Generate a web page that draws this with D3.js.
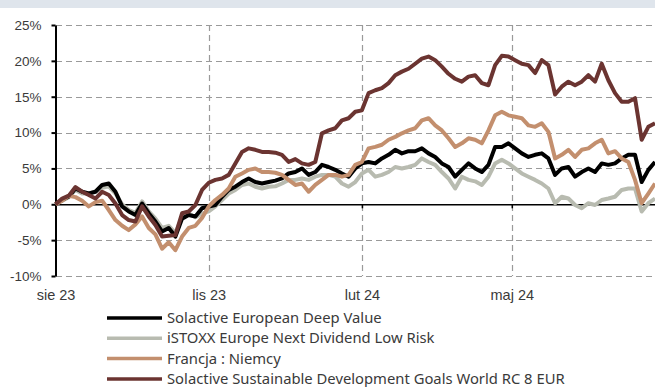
<!DOCTYPE html>
<html>
<head>
<meta charset="utf-8">
<script src="https://cdn.jsdelivr.net/npm/d3@7"></script>
<style>
  body { margin: 0; background: #fff; }
  svg { display: block; font-family: "Noto Sans", sans-serif; }
</style>
</head>
<body>
<svg id="chart" width="655" height="387"></svg>
<script>
// sampling dates: every 4th day from 1 Aug 2023
const start = new Date(2023, 7, 1);
const dates = d3.timeDay.range(start, new Date(2024, 6, 27), 4);

const deepValue = [0, 0.6, 1.1, 2.2, 1.75, 1.5, 1.75, 2.7, 2.9, 1.75,
  -0.3, -1.0, -1.5, 0.1, -1.25, -2.4, -3.8, -3.3, -4.5, -2.0,
  -1.5, -1.7, -0.55, -0.3, -0.1, 1.05, 2.0, 2.45, 3.1, 3.6,
  3.1, 2.9, 3.1, 3.3, 3.6, 4.3, 4.5, 5.0, 4.1, 4.5,
  5.5, 5.2, 4.8, 4.3, 3.85, 5.0, 5.7, 5.9, 5.7, 6.4,
  6.9, 7.6, 7.1, 7.4, 7.4, 7.8, 7.1, 6.6, 5.7, 5.2,
  3.85, 4.8, 5.7, 5.0, 4.5, 5.5, 8.0, 8.0, 8.5, 7.8,
  7.1, 6.6, 6.9, 7.1, 6.4, 4.1, 5.0, 5.2, 3.85, 4.5,
  5.0, 4.5, 5.7, 5.5, 5.7, 6.4, 6.9, 6.9, 3.1, 4.8, 5.9];

const lowRisk = [0, 0.5, 1.0, 2.0, 1.5, 1.5, 1.8, 2.3, 2.5, 1.5,
  0.0, -0.8, -1.2, 0.4, -1.0, -2.0, -3.3, -3.0, -4.0, -1.8,
  -1.3, -1.8, -1.3, -1.0, -0.3, 0.6, 1.5, 2.0, 2.7, 2.9,
  2.45, 2.2, 2.45, 2.5, 2.9, 3.4, 3.4, 3.6, 3.4, 3.85,
  4.1, 4.1, 3.85, 2.9, 2.45, 3.1, 4.3, 4.8, 3.85, 4.1,
  4.5, 5.2, 5.0, 5.2, 5.5, 6.4, 5.9, 5.5, 4.5, 3.6,
  2.2, 3.85, 3.4, 3.2, 2.7, 3.85, 5.7, 6.2, 5.7, 5.0,
  4.3, 3.85, 3.4, 2.9, 2.2, 0.15, 1.05, 0.8, -0.1, -0.55,
  0.15, -0.1, 0.6, 0.8, 1.05, 2.0, 2.2, 2.2, -1.0, 0.15, 0.8];

const franceGermany = [0, 0.5, 1.2, 1.0, 0.5, -0.3, 0.3, 0.5, -0.8, -2.2,
  -3.0, -3.6, -2.8, -1.7, -3.3, -4.2, -6.2, -5.3, -6.4, -4.5,
  -3.3, -3.0, -1.9, -0.3, 0.6, 1.3, 2.2, 3.85, 4.3, 4.8,
  5.0, 4.5, 4.5, 4.4, 4.1, 3.4, 2.7, 2.9, 1.75, 2.7,
  3.4, 4.1, 4.1, 3.85, 4.1, 5.5, 5.9, 7.8, 8.0, 8.3,
  9.0, 9.4, 9.9, 10.3, 10.6, 11.7, 12.0, 11.0, 10.3, 9.2,
  8.0, 8.5, 9.2, 9.0, 8.5, 10.3, 12.4, 12.9, 12.4, 12.2,
  12.0, 11.0, 10.8, 11.3, 10.1, 6.4, 6.9, 7.6, 6.6, 7.6,
  7.8, 8.5, 9.0, 7.1, 7.4, 6.4, 5.9, 3.4, 0.15, 1.5, 2.9];

const sdgWorld = [0, 0.8, 1.2, 2.4, 1.75, 1.3, 0.8, 1.75, 1.3, 0.1,
  -1.5, -2.2, -2.4, -0.3, -1.7, -2.9, -4.5, -4.4, -4.3, -1.25,
  -1.0, -0.1, 2.0, 3.0, 3.4, 3.6, 4.1, 5.7, 7.3, 7.8,
  7.6, 7.3, 7.3, 7.2, 6.9, 5.9, 6.3, 5.7, 5.5, 5.9,
  9.9, 10.3, 10.6, 11.7, 12.0, 12.9, 13.1, 15.5, 15.9, 16.2,
  16.9, 18.0, 18.5, 18.9, 19.6, 20.3, 20.6, 20.1, 19.2, 18.2,
  17.5, 17.1, 17.8, 18.0, 16.9, 16.6, 19.4, 20.7, 20.6, 20.1,
  19.6, 19.4, 18.3, 20.1, 19.4, 15.3, 16.4, 17.1, 16.6, 17.1,
  18.0, 17.1, 19.6, 17.3, 15.5, 14.3, 14.3, 14.8, 9.0, 10.8, 11.3];

const seriesNames = ["Solactive European Deep Value", "iSTOXX Europe Next Dividend Low Risk",
  "Francja : Niemcy", "Solactive Sustainable Development Goals World RC 8 EUR"];
const seriesColors = ["#000000", "#b8bbb0", "#c38f6e", "#6b3431"];

const monthTicks = [new Date(2023, 7, 1), new Date(2023, 10, 1), new Date(2024, 1, 1), new Date(2024, 4, 1)];
const monthLabels = ["sie 23", "lis 23", "lut 24", "maj 24"];
const yTicks = [-10, -5, 0, 5, 10, 15, 20, 25];

const svg = d3.select("#chart");

// light band on top
svg.append("rect").attr("x", 0).attr("y", 0).attr("width", 655).attr("height", 8).attr("fill", "#dfe5ec");

const x = d3.scaleTime()
  .domain([start, new Date(2024, 6, 26)])
  .range([55.5, 655]);
const y = d3.scaleLinear()
  .domain([-10, 25])
  .range([276, 25]);

// grid
const grid = svg.append("g").attr("stroke", "#9a9a9a").attr("stroke-dasharray", "6,4").attr("stroke-width", 1.2);
grid.selectAll(".h")
  .data(yTicks.filter(d => d !== 0))
  .enter().append("line")
  .attr("x1", 56).attr("x2", 655)
  .attr("y1", d => Math.round(y(d)) + 0.5).attr("y2", d => Math.round(y(d)) + 0.5);
grid.selectAll(".v")
  .data(monthTicks.slice(1))
  .enter().append("line")
  .attr("x1", d => Math.round(x(d)) + 0.5).attr("x2", d => Math.round(x(d)) + 0.5)
  .attr("y1", y(25)).attr("y2", y(-10));

// y axis
const yAxis = svg.append("g")
  .attr("transform", "translate(55.5,0)")
  .call(d3.axisLeft(y).tickValues(yTicks).tickFormat(d => `${d}%`).tickSize(4).tickSizeOuter(0));
yAxis.select(".domain").attr("stroke", "#000").attr("stroke-width", 2);
yAxis.selectAll(".tick line").attr("stroke", "#000").attr("stroke-width", 2);
yAxis.selectAll("text").attr("x", -14).attr("font-size", 13.5).attr("fill", "#3a3a3a");

// x axis on zero line
const xAxis = svg.append("g")
  .attr("transform", `translate(0,${y(0)})`)
  .call(d3.axisBottom(x).tickValues(monthTicks).tickFormat((d, i) => monthLabels[i]).tickSize(4).tickSizeOuter(0));
xAxis.select(".domain").attr("stroke", "#000").attr("stroke-width", 1.5);
xAxis.selectAll(".tick line").attr("stroke", "#000").attr("stroke-width", 1.5);
xAxis.selectAll("text")
  .attr("y", y(-10) - y(0) + 14)
  .attr("font-size", 14.5).attr("fill", "#3a3a3a");

// lines
const line = d3.line()
  .x((d, i) => x(dates[i]))
  .y(d => y(d));

const allSeries = [lowRisk, deepValue, franceGermany, sdgWorld];
const drawColors = [seriesColors[1], seriesColors[0], seriesColors[2], seriesColors[3]];

svg.append("g")
  .selectAll("path")
  .data(allSeries)
  .enter().append("path")
  .attr("d", line)
  .attr("fill", "none")
  .attr("stroke", (d, i) => drawColors[i])
  .attr("stroke-width", 4)
  .attr("stroke-linejoin", "round");

// legend
const legend = svg.append("g")
  .selectAll("g")
  .data(seriesNames)
  .enter().append("g")
  .attr("transform", (d, i) => `translate(107,${318 + i * 20.3})`);
legend.append("line")
  .attr("x1", 0).attr("x2", 55)
  .attr("stroke", (d, i) => seriesColors[i])
  .attr("stroke-width", 3.5);
legend.append("text")
  .attr("x", 60).attr("dy", "0.35em")
  .attr("font-size", 14.8).attr("fill", "#3a3a3a")
  .text(d => d);
</script>
</body>
</html>
